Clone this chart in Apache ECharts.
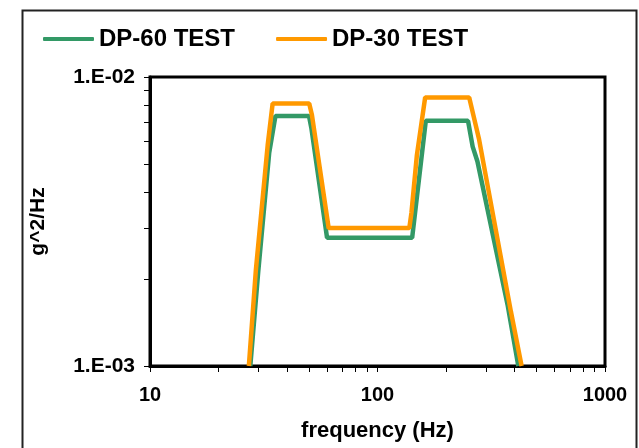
<!DOCTYPE html>
<html>
<head>
<meta charset="utf-8">
<script src="https://cdn.jsdelivr.net/npm/echarts@6/dist/echarts.min.js"></script>
<style>
html,body{margin:0;padding:0;background:#fff;}
#chart{width:639px;height:448px;}
</style>
</head>
<body>
<div id="chart"></div>
<script>
// ---- data ----
const seriesNames = ['DP-60 TEST', 'DP-30 TEST'];
const dp60Freq = [27.6, 29.9, 33.4, 35.6, 50, 51.2, 60, 142, 163, 250, 262, 275, 373, 416];
const dp60Psd  = [1.0e-3, 2.12e-3, 5.45e-3, 7.33e-3, 7.33e-3, 6.66e-3, 2.78e-3, 2.78e-3, 7.05e-3, 7.05e-3, 5.74e-3, 5.1e-3, 1.63e-3, 1.0e-3];
const dp30Freq = [27.2, 29.2, 32.9, 34.6, 50.1, 51.5, 61, 138, 141, 149, 162, 253, 279, 386, 430];
const dp30Psd  = [1.0e-3, 2.15e-3, 5.8e-3, 8.1e-3, 8.1e-3, 7.39e-3, 3.0e-3, 3.0e-3, 3.39e-3, 5.37e-3, 8.5e-3, 8.5e-3, 6.13e-3, 1.54e-3, 1.0e-3];
const xTickLabels = [10, 100, 1000];
const xTickValues = [10,20,30,40,50,60,70,80,90,100,200,300,400,500,600,700,800,900,1000];
const yTickLabels = [0.001, 0.01];
const yTickValues = [0.001,0.002,0.003,0.004,0.005,0.006,0.007,0.008,0.009,0.01];
const xTitle = 'frequency (Hz)';
const yTitle = 'g^2/Hz';

const pairs = (xs, ys) => xs.map((x, i) => [x, ys[i]]);
const font = 'Liberation Sans, Arial, sans-serif';

const chart = echarts.init(document.getElementById('chart'), null, {renderer: 'canvas'});
chart.setOption({
  animation: false,
  backgroundColor: '#fff',
  graphic: [{
    type: 'rect', left: 20, top: 8, silent: true,
    shape: {width: 614, height: 460},
    style: {fill: 'none', stroke: '#222', lineWidth: 2}
  }],
  legend: {
    left: 38, top: 22,
    icon: 'roundRect',
    itemWidth: 51, itemHeight: 4, itemGap: 41,
    textStyle: {fontFamily: font, fontWeight: 'bold', fontSize: 24, color: '#000'},
    data: seriesNames
  },
  grid: {
    left: 150, right: 34, top: 77, bottom: 82,
    show: true, borderColor: '#000', borderWidth: 3, backgroundColor: '#fff'
  },
  xAxis: {
    type: 'log', logBase: 10, min: 10, max: 1000,
    name: xTitle, nameLocation: 'middle', nameGap: 54,
    nameTextStyle: {fontFamily: font, fontWeight: 'bold', fontSize: 22, color: '#000'},
    axisLine: {show: true, lineStyle: {color: '#000', width: 3}},
    axisTick: {show: true, inside: false, length: 6, customValues: xTickValues, lineStyle: {color: '#000', width: 1}},
    axisLabel: {customValues: xTickLabels, margin: 19, fontFamily: font, fontWeight: 'bold', fontSize: 20, color: '#000',
      formatter: v => String(Math.round(v))},
    splitLine: {show: false},
    minorTick: {show: false}
  },
  yAxis: {
    type: 'log', logBase: 10, min: 0.001, max: 0.01,
    name: yTitle, nameLocation: 'middle', nameGap: 101, nameRotate: 90,
    nameTextStyle: {fontFamily: font, fontWeight: 'bold', fontSize: 21, color: '#000'},
    axisLine: {show: true, lineStyle: {color: '#000', width: 3}},
    axisTick: {show: true, inside: false, length: 6, customValues: yTickValues, lineStyle: {color: '#000', width: 1}},
    axisLabel: {customValues: yTickLabels, margin: 15, fontFamily: font, fontWeight: 'bold', fontSize: 21, color: '#000',
      formatter: v => '1.E-' + String(Math.round(-Math.log10(v))).padStart(2, '0')},
    splitLine: {show: false}
  },
  series: [
    {
      name: seriesNames[0], type: 'line', data: pairs(dp60Freq, dp60Psd),
      showSymbol: false, symbol: 'none', clip: true,
      color: '#339966', lineStyle: {color: '#339966', width: 4.5}
    },
    {
      name: seriesNames[1], type: 'line', data: pairs(dp30Freq, dp30Psd),
      showSymbol: false, symbol: 'none', clip: true,
      color: '#FF9900', lineStyle: {color: '#FF9900', width: 4.5}
    }
  ]
});
</script>
</body>
</html>
